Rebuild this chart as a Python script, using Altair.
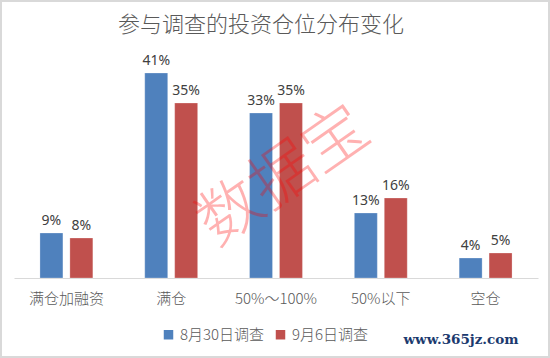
import altair as alt
import pandas as pd

categories = ["满仓加融资", "满仓", "50%～100%", "50%以下", "空仓"]
series = ["8月30日调查", "9月6日调查"]
aug30 = [9, 41, 33, 13, 4]
sep6 = [8, 35, 35, 16, 5]
colors = ["#4F81BD", "#C0504D"]
title_text = "参与调查的投资仓位分布变化"
watermark = "数据宝"
site = "www.365jz.com"

rows = []
for c, a, b in zip(categories, aug30, sep6):
    rows.append({"cat": c, "series": series[0], "v": a, "label": f"{a}%"})
    rows.append({"cat": c, "series": series[1], "v": b, "label": f"{b}%"})
df = pd.DataFrame(rows)

W, H = 524, 225
CJK = "Noto Sans CJK SC"

x = alt.X("cat:N", sort=categories,
          scale=alt.Scale(paddingInner=0, paddingOuter=0),
          axis=alt.Axis(title=None, labelAngle=0, labelFontSize=15, labelColor="#595959",
                        labelFont=CJK, labelFontWeight=300, ticks=False, domainColor="#d9d9d9",
                        domainWidth=1, labelPadding=13, grid=False))
xo = alt.XOffset("series:N", sort=series,
                 scale=alt.Scale(paddingInner=0.233, paddingOuter=0.867))
y = alt.Y("v:Q", scale=alt.Scale(domain=[0, 45]), axis=None)

bars = alt.Chart(df).mark_bar(stroke="#ffffff", strokeOpacity=0.25, strokeWidth=1).encode(
    x=x, xOffset=xo, y=y,
    color=alt.Color("series:N", sort=series,
                    scale=alt.Scale(domain=series, range=colors),
                    legend=alt.Legend(title=None, orient="none", direction="horizontal",
                                      legendX=147, legendY=274, symbolType="square",
                                      symbolSize=90, symbolStrokeWidth=0,
                                      labelFontSize=15, labelFont=CJK, labelFontWeight=300,
                                      labelColor="#595959",
                                      columnPadding=8, labelOffset=4))
)

labels = alt.Chart(df).mark_text(baseline="bottom", dy=-5, fontSize=14, color="#404040",
                                  font="Noto Sans").encode(
    x=x, xOffset=xo, y=y, text="label:N"
)

title = alt.Chart(pd.DataFrame({"t": [title_text]})).mark_text(
    fontSize=22, color="#595959", font=CJK, fontWeight=300, baseline="middle", align="center"
).encode(text="t:N", x=alt.value(247), y=alt.value(-28))

wm = alt.Chart(pd.DataFrame({"t": [watermark]})).mark_text(
    fontSize=64, color="#ff0000", opacity=0.3, font=CJK, fontWeight=300, angle=325,
    baseline="middle", align="center"
).encode(text="t:N", x=alt.value(270), y=alt.value(124))

site_mark = alt.Chart(pd.DataFrame({"t": [site]})).mark_text(
    fontSize=13.5, color="#1b3a6e", font="DejaVu Serif", fontWeight="bold",
    baseline="middle", align="center"
).encode(text="t:N", x=alt.value(447), y=alt.value(287))

border = alt.Chart(pd.DataFrame({"d": [0]})).mark_rect(
    fill=None, stroke="#d9d9d9", strokeWidth=2
).encode(x=alt.value(-13), x2=alt.value(535), y=alt.value(-52), y2=alt.value(304))

chart = alt.layer(border, bars, labels, wm, title, site_mark).properties(
    width=W, height=H,
    padding={"left": 14, "top": 53, "right": 12, "bottom": 80},
    autosize=alt.AutoSizeParams(type="none"),
    background="#ffffff"
).configure_view(stroke=None)

chart.save("out.html", embed_options={"renderer": "svg", "actions": False})
